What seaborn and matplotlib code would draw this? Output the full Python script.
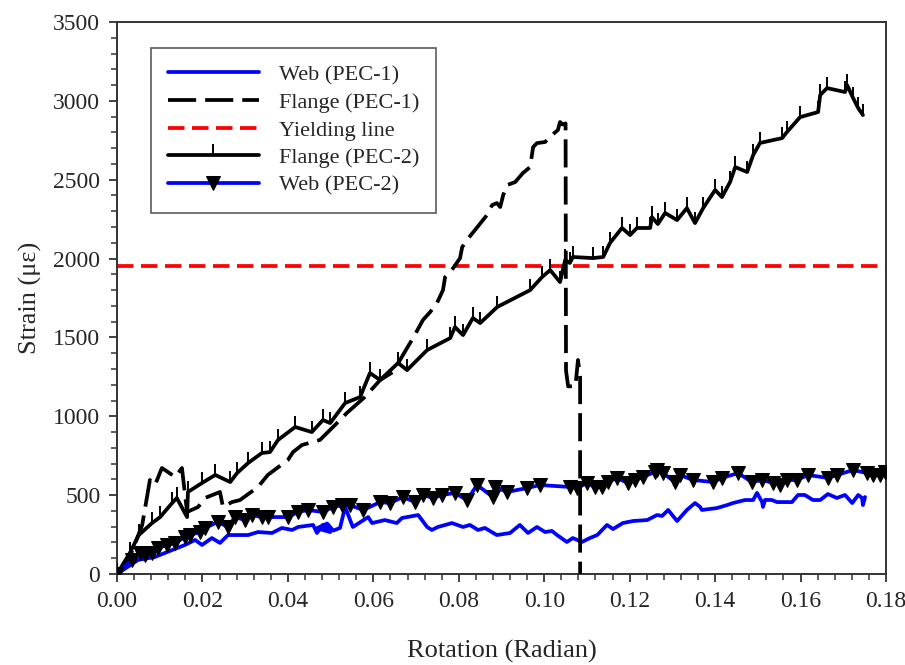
import numpy as np
import pandas as pd
import seaborn as sns
import matplotlib
matplotlib.use("Agg")
import matplotlib.pyplot as plt
from matplotlib.ticker import MultipleLocator

# ---------------- data ----------------
web1_x = [0, 0.0049, 0.0089, 0.0129, 0.0159, 0.0183, 0.0199, 0.0222, 0.0241, 0.026, 0.0307, 0.033,
          0.0363, 0.0386, 0.041, 0.0424, 0.0459, 0.0468, 0.0482, 0.0499, 0.0468, 0.0492, 0.0506,
          0.0522, 0.0534, 0.0552, 0.0588, 0.0597, 0.0627, 0.0655, 0.0667, 0.0693, 0.0705, 0.0726,
          0.0737, 0.0751, 0.0784, 0.081, 0.0826, 0.0845, 0.0861, 0.0889, 0.092, 0.0943, 0.0962,
          0.0983, 0.1002, 0.1018, 0.103, 0.1053, 0.1067, 0.1088, 0.1107, 0.1124, 0.1147, 0.1161,
          0.1184, 0.1208, 0.1241, 0.1264, 0.1276, 0.129, 0.1311, 0.1334, 0.1353, 0.1365, 0.1369,
          0.1404, 0.1428, 0.1442, 0.147, 0.1489, 0.1498, 0.151, 0.1512, 0.1517, 0.1533, 0.1545,
          0.158, 0.1594, 0.161, 0.1629, 0.1646, 0.1664, 0.1685, 0.1704, 0.1721, 0.1735, 0.1744,
          0.1746, 0.1751]
web1_y = [0, 89, 108, 152, 184, 216, 184, 228, 197, 247, 247, 266,
          260, 292, 279, 298, 311, 260, 311, 266, 290, 320, 275,
          292, 425, 298, 361, 323, 342, 323, 355, 368, 374, 298,
          279, 298, 323, 298, 311, 279, 292, 247, 260, 311, 260,
          298, 266, 273, 247, 203, 228, 203, 228, 247, 311, 285,
          323, 336, 342, 374, 368, 406, 336, 406, 450, 425, 406,
          418, 437, 450, 469, 469, 514, 456, 425, 470, 469, 456,
          456, 501, 501, 469, 469, 507, 482, 501, 450, 501, 482,
          437, 488]

fl1_x = [0, 0.003, 0.0059, 0.0077, 0.0089, 0.0105, 0.0119, 0.0136, 0.0152, 0.0164, 0.019, 0.0206,
         0.0241, 0.0248, 0.0269, 0.0288, 0.033, 0.0353, 0.04, 0.0412, 0.0433, 0.0475, 0.0522,
         0.0538, 0.058, 0.0616, 0.0646, 0.0679, 0.0693, 0.0716, 0.0733, 0.0749, 0.0763, 0.0768,
         0.0787, 0.0803, 0.0808, 0.0819, 0.0838, 0.0866, 0.0878, 0.0889, 0.0897, 0.0904, 0.0913,
         0.0932, 0.095, 0.0967, 0.0974, 0.0983, 0.1002, 0.1018, 0.1032, 0.1037, 0.1043, 0.105,
         0.1051, 0.1056, 0.1073, 0.1079, 0.1084, 0.1084]
fl1_y = [0, 108, 311, 596, 564, 672, 647, 615, 672, 393, 425, 482,
         520, 425, 456, 469, 552, 628, 723, 773, 818, 850, 976,
         1021, 1122, 1230, 1281, 1433, 1496, 1610, 1661, 1718, 1800, 1883,
         1940, 2003, 2073, 2118, 2181, 2276, 2339, 2352, 2327, 2403, 2466,
         2485, 2542, 2580, 2707, 2732, 2739, 2783, 2815, 2866, 2850, 2857,
         1290, 1190, 1190, 1357, 1250, 0]

fl2_x = [0, 0.003, 0.0051, 0.0082, 0.0101, 0.0129, 0.014, 0.0164, 0.0166, 0.0199, 0.023, 0.0265,
         0.0281, 0.0307, 0.0339, 0.0358, 0.0377, 0.0417, 0.0456, 0.0482, 0.0499, 0.0534, 0.0569,
         0.0592, 0.0616, 0.0658, 0.0679, 0.0726, 0.078, 0.0791, 0.081, 0.0833, 0.085, 0.089,
         0.0967, 0.0995, 0.1014, 0.1037, 0.1049, 0.106, 0.1067, 0.1114, 0.1138, 0.1154, 0.1182,
         0.1201, 0.1217, 0.1248, 0.1252, 0.1266, 0.1283, 0.1311, 0.1334, 0.1353, 0.1372, 0.14,
         0.1416, 0.1435, 0.1447, 0.1475, 0.1489, 0.1505, 0.1557, 0.1568, 0.1599, 0.1641, 0.1646,
         0.1662, 0.1704, 0.1709, 0.1723, 0.1735, 0.1746]
fl2_y = [0, 133, 247, 323, 361, 450, 482, 361, 520, 577, 628, 583,
         640, 704, 767, 773, 850, 932, 900, 976, 957, 1084, 1122,
         1274, 1230, 1338, 1293, 1420, 1496, 1566, 1515, 1623, 1591, 1693,
         1800, 1883, 1927, 1851, 1991, 1972, 2010, 2003, 2010, 2099, 2194,
         2149, 2194, 2194, 2263, 2219, 2289, 2244, 2320, 2225, 2320, 2435,
         2390, 2485, 2580, 2549, 2656, 2733, 2764, 2802, 2897, 2929, 3037,
         3081, 3056, 3100, 3018, 2954, 2910]

web2_x = [0, 0.0035, 0.0054, 0.0066, 0.0082, 0.0096, 0.0117, 0.0136, 0.0159, 0.0171, 0.0194, 0.0206,
          0.0236, 0.026, 0.0276, 0.03, 0.0316, 0.0339, 0.0353, 0.04, 0.0424, 0.0447, 0.0482,
          0.0506, 0.0527, 0.0545, 0.0576, 0.0616, 0.0639, 0.0669, 0.0698, 0.0716, 0.074, 0.0761,
          0.0791, 0.0819, 0.0843, 0.088, 0.0885, 0.0913, 0.096, 0.099, 0.106, 0.1077, 0.11,
          0.1119, 0.1135, 0.1149, 0.117, 0.1196, 0.1213, 0.1231, 0.1259, 0.1264, 0.1278, 0.1306,
          0.1318, 0.1348, 0.1395, 0.1416, 0.1454, 0.1486, 0.151, 0.1536, 0.1552, 0.1568, 0.1592,
          0.1617, 0.1664, 0.1685, 0.1723, 0.1756, 0.177, 0.1786, 0.1798]
web2_y = [0, 89, 133, 120, 133, 165, 184, 197, 235, 247, 266, 292,
          330, 298, 361, 342, 374, 361, 361, 361, 393, 406, 393,
          425, 437, 437, 406, 456, 450, 488, 456, 501, 482, 501,
          514, 469, 564, 488, 552, 520, 545, 564, 552, 545, 577,
          552, 552, 583, 609, 577, 596, 615, 647, 659, 640, 583,
          628, 596, 583, 609, 640, 583, 596, 577, 564, 596, 596,
          628, 609, 628, 659, 640, 628, 628, 647]

yield_strain = 1950

xticks = [0.00, 0.02, 0.04, 0.06, 0.08, 0.10, 0.12, 0.14, 0.16, 0.18]
yticks = [0, 500, 1000, 1500, 2000, 2500, 3000, 3500]

# ---------------- style ----------------
sns.set_style("ticks")
plt.rcParams["font.family"] = ["Liberation Serif", "DejaVu Serif"]

fig = plt.figure(figsize=(9.05, 6.65), dpi=100)
ax = fig.add_axes([117 / 905, 1 - 574 / 665, (886 - 117) / 905, (574 - 22) / 665])

ax.axhline(yield_strain, color="#ff0000", linewidth=2.7, dashes=(4.4, 2.0), zorder=1,
           label="Yielding line")

d_web1 = pd.DataFrame({"x": web1_x, "y": web1_y})
d_fl1 = pd.DataFrame({"x": fl1_x, "y": fl1_y})
d_fl2 = pd.DataFrame({"x": fl2_x, "y": fl2_y})
d_web2 = pd.DataFrame({"x": web2_x, "y": web2_y})

LW = 2.7
sns.lineplot(data=d_web1, x="x", y="y", sort=False, estimator=None, ax=ax,
             color="#0000ff", linewidth=LW, label="Web (PEC-1)", zorder=3)
sns.lineplot(data=d_fl1, x="x", y="y", sort=False, estimator=None, ax=ax,
             color="black", linewidth=LW, label="Flange (PEC-1)", zorder=3)
sns.lineplot(data=d_fl2, x="x", y="y", sort=False, estimator=None, ax=ax,
             color="black", linewidth=LW, marker=2, markersize=8, markeredgewidth=1.4,
             markeredgecolor="black", label="Flange (PEC-2)", zorder=3)
sns.lineplot(data=d_web2, x="x", y="y", sort=False, estimator=None, ax=ax,
             color="#0000ff", linewidth=LW, marker="v", markersize=10,
             markerfacecolor="black", markeredgecolor="black",
             label="Web (PEC-2)", zorder=4)

for ln in ax.get_lines():
    if ln.get_label() == "Flange (PEC-1)":
        ln.set_dashes((7.5, 2.4))

ax.set_xlim(0, 0.18)
ax.set_ylim(0, 3500)
ax.set_xticks(xticks)
ax.set_xticklabels([f"{v:.2f}" for v in xticks])
ax.set_yticks(yticks)
ax.set_yticklabels([str(v) for v in yticks])
ax.xaxis.set_minor_locator(MultipleLocator(0.004))
ax.yaxis.set_minor_locator(MultipleLocator(100))
ax.tick_params(which="major", direction="out", length=6, width=1.3, labelsize=17,
               color="#333333", pad=6)
ax.tick_params(which="minor", direction="out", length=4, width=1.1, color="#333333")
for s in ax.spines.values():
    s.set_visible(True)
    s.set_linewidth(1.4)
    s.set_color("#333333")

ax.set_xlabel("Rotation (Radian)", fontsize=19, labelpad=20)
ax.set_ylabel("Strain (\u03bc\u03b5)", fontsize=19, labelpad=8)

hmap = {h.get_label(): h for h in ax.get_lines()}
order = ["Web (PEC-1)", "Flange (PEC-1)", "Yielding line", "Flange (PEC-2)", "Web (PEC-2)"]
leg = ax.legend([hmap[k] for k in order], order, loc="upper left",
                bbox_to_anchor=(34 / 769, 1 - 26 / 552), borderaxespad=0,
                fontsize=16, handlelength=4.1, handletextpad=0.9, labelspacing=0.32,
                borderpad=0.75, frameon=True, fancybox=False)
leg.get_frame().set_edgecolor("#333333")
leg.get_frame().set_linewidth(1.2)

fig.savefig("out.png", dpi=100)
